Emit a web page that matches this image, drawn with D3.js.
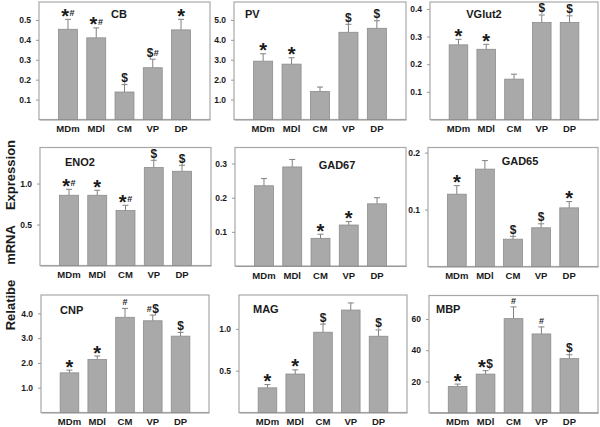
<!DOCTYPE html>
<html>
<head>
<meta charset="utf-8">
<script src="https://cdn.jsdelivr.net/npm/d3@7/dist/d3.min.js"></script>
<style>
  body { margin: 0; background: #fff; }
  svg { display: block; font-family: "Liberation Sans", Arial, sans-serif; }
</style>
</head>
<body>
<div id="chart"></div>
<script>
// regions on the x axis
const regions = ['MDm', 'MDl', 'CM', 'VP', 'DP'];

// one array set per gene: means, sem, significance marks
const cbMean = [0.453, 0.41, 0.138, 0.26, 0.45];
const cbSem = [0.05, 0.05, 0.037, 0.043, 0.053];
const cbMarks = ['*#', '*#', '$', '$#', '*'];

const pvMean = [2.93, 2.78, 1.41, 4.38, 4.58];
const pvSem = [0.37, 0.32, 0.22, 0.40, 0.38];
const pvMarks = ['*', '*', '', '$', '$'];

const vglutMean = [0.27, 0.254, 0.146, 0.351, 0.351];
const vglutSem = [0.02, 0.018, 0.018, 0.027, 0.024];
const vglutMarks = ['*', '*', '', '$', '$'];

const eno2Mean = [0.857, 0.857, 0.67, 1.195, 1.15];
const eno2Sem = [0.073, 0.061, 0.065, 0.089, 0.073];
const eno2Marks = ['*#', '*', '*#', '$', '$'];

const gad67Mean = [0.235, 0.29, 0.081, 0.12, 0.182];
const gad67Sem = [0.021, 0.022, 0.012, 0.01, 0.018];
const gad67Marks = ['', '', '*', '*', ''];

const gad65Mean = [0.127, 0.171, 0.048, 0.068, 0.103];
const gad65Sem = [0.015, 0.015, 0.005, 0.007, 0.011];
const gad65Marks = ['*', '', '$', '$', '*'];

const cnpMean = [1.6, 2.14, 3.84, 3.7, 3.08];
const cnpSem = [0.11, 0.14, 0.36, 0.23, 0.15];
const cnpMarks = ['*', '*', '#', '#$', '$'];

const magMean = [0.295, 0.46, 0.96, 1.225, 0.912];
const magSem = [0.039, 0.05, 0.097, 0.085, 0.075];
const magMarks = ['*', '*', '$', '', '$'];

const mbpMean = [16.8, 24.7, 60.2, 50.4, 34.6];
const mbpSem = [1.5, 2.2, 7.5, 4.5, 2.5];
const mbpMarks = ['*', '*$', '#', '#', '$'];

// axis ticks
const cbTicks = [0.1, 0.2, 0.3, 0.4, 0.5];
const pvTicks = [1, 2, 3, 4, 5];
const vglutTicks = [0.1, 0.2, 0.3, 0.4];
const eno2Ticks = [0.5, 1.0];
const gad67Ticks = [0.1, 0.2, 0.3];
const gad65Ticks = [0.1, 0.2];
const cnpTicks = [1, 2, 3, 4];
const magTicks = [0.5, 1.0];
const mbpTicks = [20, 40, 60];

const yLabelWords = ['Relatibe', 'mRNA', 'Expression'];

// panels: data + where they sit on the page
const panels = [
    { name: 'CB', mean: cbMean, sem: cbSem, marks: cbMarks, ticks: cbTicks, fmt: '.1f', yMax: 0.59,
      box: [39, 210, 2, 119.5], title: [119, 18, 'middle'] },
    { name: 'PV', mean: pvMean, sem: pvSem, marks: pvMarks, ticks: pvTicks, fmt: '.1f', yMax: 5.9,
      box: [234, 406, 2, 119.5], title: [245, 18, 'start'] },
    { name: 'VGlut2', mean: vglutMean, sem: vglutSem, marks: vglutMarks, ticks: vglutTicks, fmt: '.1f', yMax: 0.425,
      box: [430, 598, 2, 119.5], title: [484, 18, 'middle'] },
    { name: 'ENO2', mean: eno2Mean, sem: eno2Sem, marks: eno2Marks, ticks: eno2Ticks, fmt: '.1f', yMax: 1.44,
      box: [40, 211, 147.5, 265.5], title: [65, 165.5, 'start'] },
    { name: 'GAD67', mean: gad67Mean, sem: gad67Sem, marks: gad67Marks, ticks: gad67Ticks, fmt: '.1f', yMax: 0.347,
      box: [235, 406, 147.5, 266], title: [337, 169, 'middle'] },
    { name: 'GAD65', mean: gad65Mean, sem: gad65Sem, marks: gad65Marks, ticks: gad65Ticks, fmt: '.1f', yMax: 0.209,
      box: [428, 598, 147.5, 266.5], title: [520, 165, 'middle'] },
    { name: 'CNP', mean: cnpMean, sem: cnpSem, marks: cnpMarks, ticks: cnpTicks, fmt: '.1f', yMax: 4.74,
      box: [41, 209, 295, 412.5], title: [60, 314, 'start'] },
    { name: 'MAG', mean: magMean, sem: magSem, marks: magMarks, ticks: magTicks, fmt: '.1f', yMax: 1.405,
      box: [239, 407, 295, 412.5], title: [253, 313, 'start'] },
    { name: 'MBP', mean: mbpMean, sem: mbpSem, marks: mbpMarks, ticks: mbpTicks, fmt: 'd', yMax: 75,
      box: [429, 598, 295.5, 412.7], title: [436, 313, 'start'] }
];

const width = 600, height = 427;
const textColor = '#1a1a1a';

const svg = d3.select('#chart').append('svg')
    .attr('width', width)
    .attr('height', height);

// symbol styles for the significance marks
const markStyle = {
    '*': { size: 20, dy: 3.6 },
    '#': { size: 9, dy: -3 },
    '$': { size: 12, dy: -2.5 }
};

panels.forEach(p => {
    const [x0, x1, y0, y1] = p.box;
    const g = svg.append('g').attr('class', 'panel');

    const x = d3.scaleBand()
        .domain(regions)
        .range([x0, x1])
        .paddingInner(0.33)
        .paddingOuter(0.69);

    const y = d3.scaleLinear()
        .domain([0, p.yMax])
        .range([y1, y0]);

    // frame
    g.append('rect')
        .attr('x', x0).attr('y', y0)
        .attr('width', x1 - x0).attr('height', y1 - y0)
        .attr('fill', 'none')
        .attr('stroke', '#a8a8a8')
        .attr('stroke-width', 1.2);

    // y axis, just ticks and labels
    const yAxis = g.append('g')
        .attr('transform', 'translate(' + x0 + ',0)')
        .call(d3.axisLeft(y).tickValues(p.ticks).tickSize(3).tickPadding(5).tickFormat(d3.format(p.fmt)));
    yAxis.select('.domain').remove();
    yAxis.selectAll('line').attr('stroke', '#999');
    yAxis.selectAll('text')
        .attr('fill', textColor)
        .style('font-size', '8.5px')
        .style('font-weight', 'bold')
        .style('font-family', '"Liberation Sans", Arial, sans-serif');

    // x axis labels
    const xAxis = g.append('g')
        .attr('transform', 'translate(0,' + y1 + ')')
        .call(d3.axisBottom(x).tickSize(0).tickPadding(6));
    xAxis.select('.domain').attr('stroke', '#999').attr('stroke-width', 1.2);
    xAxis.selectAll('text')
        .attr('fill', textColor)
        .style('font-size', '9.5px')
        .style('font-weight', 'bold')
        .style('font-family', '"Liberation Sans", Arial, sans-serif');

    const rows = regions.map((r, i) => ({ region: r, mean: p.mean[i], sem: p.sem[i], mark: p.marks[i] }));

    // error bars (upper only) behind the bars
    const err = g.append('g').selectAll('g').data(rows).join('g');
    err.append('line')
        .attr('x1', d => x(d.region) + x.bandwidth() / 2)
        .attr('x2', d => x(d.region) + x.bandwidth() / 2)
        .attr('y1', d => y(d.mean))
        .attr('y2', d => y(d.mean + d.sem))
        .attr('stroke', '#808080').attr('stroke-width', 1);
    err.append('line')
        .attr('x1', d => x(d.region) + x.bandwidth() / 2 - 3)
        .attr('x2', d => x(d.region) + x.bandwidth() / 2 + 3)
        .attr('y1', d => y(d.mean + d.sem))
        .attr('y2', d => y(d.mean + d.sem))
        .attr('stroke', '#808080').attr('stroke-width', 1);

    // bars
    g.append('g').selectAll('rect').data(rows).join('rect')
        .attr('x', d => x(d.region))
        .attr('y', d => y(d.mean))
        .attr('width', x.bandwidth())
        .attr('height', d => y1 - y(d.mean))
        .attr('fill', '#a9a9a9')
        .attr('stroke', '#8c8c8c')
        .attr('stroke-width', 0.8);

    // significance marks, centred over each error bar
    rows.filter(d => d.mark).forEach(d => {
        const top = y(d.mean + d.sem);
        const mg = g.append('g');
        let cx = 0;
        d.mark.split('').forEach(ch => {
            const st = markStyle[ch];
            const t = mg.append('text')
                .attr('x', cx)
                .attr('y', top + st.dy)
                .attr('fill', textColor)
                .style('font-size', st.size + 'px')
                .style('font-weight', 'bold')
                .text(ch);
            cx += t.node().getComputedTextLength() + 0.5;
        });
        const w = cx - 0.5;
        mg.attr('transform', 'translate(' + (x(d.region) + x.bandwidth() / 2 - w / 2) + ',0)');
    });

    // gene name
    g.append('text')
        .attr('x', p.title[0])
        .attr('y', p.title[1])
        .attr('text-anchor', p.title[2])
        .attr('fill', textColor)
        .style('font-size', '11px')
        .style('font-weight', 'bold')
        .text(p.name);
});

// shared y label, words spread along the left edge
const yLabelCenters = [305, 245, 175];
yLabelWords.forEach((w, i) => {
    svg.append('text')
        .attr('transform', 'translate(15,' + yLabelCenters[i] + ') rotate(-90)')
        .attr('text-anchor', 'middle')
        .attr('fill', textColor)
        .style('font-size', '13px')
        .style('font-weight', 'bold')
        .text(w);
});
</script>
</body>
</html>
